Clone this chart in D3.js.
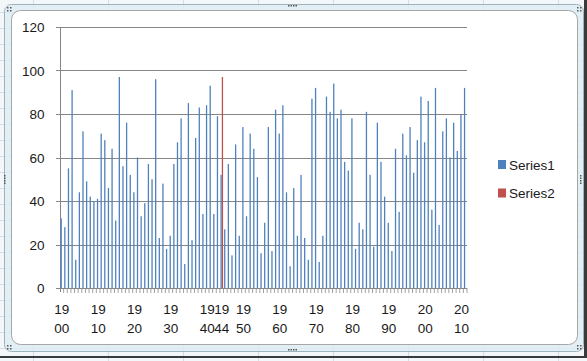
<!DOCTYPE html>
<html><head><meta charset="utf-8">
<script src="https://cdn.jsdelivr.net/npm/d3@7/dist/d3.min.js"></script>
<style>html,body{margin:0;padding:0;background:#f4f7fa;overflow:hidden}svg{display:block}</style>
</head><body>
<svg id="c" width="587" height="361"></svg>
<script>
const years = [1900,1901,1902,1903,1904,1905,1906,1907,1908,1909,
1910,1911,1912,1913,1914,1915,1916,1917,1918,1919,
1920,1921,1922,1923,1924,1925,1926,1927,1928,1929,
1930,1931,1932,1933,1934,1935,1936,1937,1938,1939,
1940,1941,1942,1943,1944,1945,1946,1947,1948,1949,
1950,1951,1952,1953,1954,1955,1956,1957,1958,1959,
1960,1961,1962,1963,1964,1965,1966,1967,1968,1969,
1970,1971,1972,1973,1974,1975,1976,1977,1978,1979,
1980,1981,1982,1983,1984,1985,1986,1987,1988,1989,
1990,1991,1992,1993,1994,1995,1996,1997,1998,1999,
2000,2001,2002,2003,2004,2005,2006,2007,2008,2009,
2010,2011];
const series1 = [32,28,55,91,13,44,72,49,42,40,
41,71,68,46,64,31,97,56,76,52,
44,60,33,39,57,50,96,23,48,18,
24,57,67,78,11,85,22,69,83,34,
84,93,34,79,52,27,57,15,66,24,
74,33,71,64,51,16,30,74,17,82,
71,84,44,10,46,24,52,23,13,87,
92,12,24,88,81,94,78,82,58,54,
78,18,30,27,81,52,19,76,58,42,
30,17,64,35,71,61,74,53,68,88,
67,86,36,92,29,72,78,60,76,63,
80,92];
const series2Years = [1944];
const series2Values = [97];
const seriesNames = ["Series1","Series2"];
const seriesColors = ["#4f81bd","#c0504d"];
const yTicks = [0,20,40,60,80,100,120];
const xLabelYears = [1900,1910,1920,1930,1940,1944,1950,1960,1970,1980,1990,2000,2010];

(function(){
const svg = d3.select("#c");

// spreadsheet background grid
const bg = svg.append("g");
[33,108,183,258,333,408,483,558].forEach(x=>bg.append("line").attr("x1",x+.5).attr("x2",x+.5).attr("y1",0).attr("y2",361).attr("stroke","#d3dde7"));
for(let yy=12;yy<361;yy+=16) bg.append("line").attr("x1",0).attr("x2",587).attr("y1",yy+.5).attr("y2",yy+.5).attr("stroke","#d3dde7");

// chart frame
svg.append("rect").attr("x",4.5).attr("y",4.5).attr("width",579).attr("height",347).attr("rx",7)
  .attr("fill","#dcedf3").attr("fill-opacity",0.75).attr("stroke","#9fb3bf");
svg.append("rect").attr("x",11.5).attr("y",10.5).attr("width",566).attr("height",334).attr("rx",9)
  .attr("fill","#ffffff").attr("stroke","#a6a6a6");
// shadow edges
svg.append("rect").attr("x",584).attr("y",0).attr("width",3).attr("height",358).attr("fill","#3a3a3a");
svg.append("rect").attr("x",0).attr("y",356).attr("width",587).attr("height",2).attr("fill","#3a3a3a");
// handles
function dots(cx,cy,n,vertical){
  for(let i=0;i<n;i++){
    svg.append("rect").attr("x",vertical?cx:cx+i*2.5).attr("y",vertical?cy+i*2.5:cy)
      .attr("width",1.5).attr("height",1.5).attr("fill","#555");
  }
}
dots(288,5,4,false); dots(288,349,4,false); dots(4,175,4,true); dots(580,175,4,true);
[[7,7],[577,7],[7,345],[577,345]].forEach(([cx,cy])=>{
  [[0,0],[3,0],[0,3],[3,3]].forEach(([dx,dy])=>svg.append("rect").attr("x",cx+dx).attr("y",cy+dy).attr("width",1.5).attr("height",1.5).attr("fill","#555"));
});

// plot
const pLeft = 60, pRight = 467, pTop = 27, pBottom = 288;
const x = d3.scaleBand().domain(years).range([pLeft,pRight]).paddingInner(0).paddingOuter(0);
const x1 = d3.scaleBand().domain(seriesNames).range([0.5, x.bandwidth()-0.4]).padding(0.04);
const y = d3.scaleLinear().domain([0,120]).range([pBottom,pTop]);
const font = "'Liberation Sans', Arial, sans-serif";

const g = svg.append("g");
g.selectAll(".gl").data(yTicks).join("line")
  .attr("x1",56).attr("x2",pRight).attr("y1",d=>Math.round(y(d))+.5).attr("y2",d=>Math.round(y(d))+.5)
  .attr("stroke","#868686").attr("stroke-width",1);
g.append("line").attr("x1",pLeft+.5).attr("x2",pLeft+.5).attr("y1",Math.round(y(120))).attr("y2",Math.round(y(0))+4)
  .attr("stroke","#868686");
g.selectAll(".xt").data(years).join("line")
  .attr("x1",d=>x(d)+x.bandwidth()).attr("x2",d=>x(d)+x.bandwidth())
  .attr("y1",Math.round(y(0))).attr("y2",Math.round(y(0))+5)
  .attr("stroke","#8a8a8a").attr("stroke-width",0.8);

g.selectAll(".yl").data(yTicks).join("text")
  .attr("x",44.5).attr("y",d=>y(d)+5).attr("text-anchor","end")
  .attr("font-family",font).attr("font-size","13.5px").attr("fill","#1a1a1a").text(d=>d);

g.selectAll(".b1").data(years.map((yr,i)=>({yr,v:series1[i]}))).join("rect")
  .attr("x",d=>x(d.yr)+x1("Series1")).attr("width",x1.bandwidth())
  .attr("y",d=>y(d.v)).attr("height",d=>y(0)-y(d.v)).attr("fill",seriesColors[0]);
g.selectAll(".b2").data(series2Years.map((yr,i)=>({yr,v:series2Values[i]}))).join("rect")
  .attr("x",d=>x(d.yr)+x1("Series2")).attr("width",x1.bandwidth())
  .attr("y",d=>y(d.v)).attr("height",d=>y(0)-y(d.v)).attr("fill",seriesColors[1]);

const xl = g.selectAll(".xl").data(xLabelYears).join("text")
  .attr("text-anchor","middle").attr("font-family",font).attr("font-size","13.5px").attr("fill","#1a1a1a");
xl.append("tspan").attr("x",d=>x(d)+x.bandwidth()/2).attr("y",314).text(d=>String(d).slice(0,2));
xl.append("tspan").attr("x",d=>x(d)+x.bandwidth()/2).attr("y",333).text(d=>String(d).slice(2));

const lg = svg.append("g");
seriesNames.forEach((s,i)=>{
  const ly = 160 + i*28.5;
  lg.append("rect").attr("x",498).attr("y",ly).attr("width",8).attr("height",9).attr("fill",seriesColors[i]);
  lg.append("text").attr("x",509).attr("y",ly+9.5).attr("font-family",font).attr("font-size","13.5px")
    .attr("fill","#1a1a1a").text(s);
});
})();
</script>
</body></html>
